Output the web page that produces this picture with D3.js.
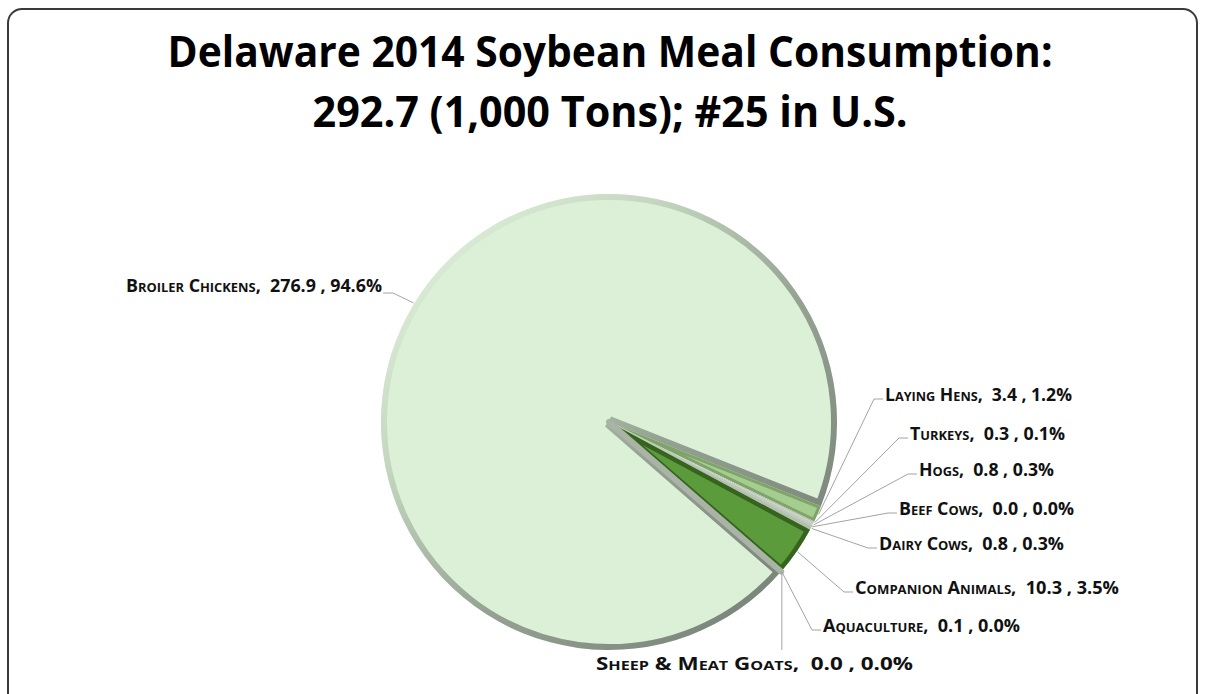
<!DOCTYPE html>
<meta charset="utf-8">
<style>
body { margin: 0; background: #fff; }
svg { display: block; font-family: "Open Sans", sans-serif; }
.leader { fill: none; stroke: #a3a3a3; stroke-width: 1; }
.title { font-weight: bold; fill: #000; }
.label { font-weight: bold; fill: #111; white-space: pre; }
</style>
<svg width="1205" height="694"></svg>
<script src="https://cdn.jsdelivr.net/npm/d3@7/dist/d3.min.js"></script>
<script>

// data (1,000 tons)
var categories = ["Broiler Chickens", "Laying Hens", "Turkeys", "Hogs", "Beef Cows",
                  "Dairy Cows", "Companion Animals", "Aquaculture", "Sheep & Meat Goats"];
var values   = [276.9, 3.4, 0.3, 0.8, 0.0, 0.8, 10.3, 0.1, 0.0];
var percents = ["94.6%", "1.2%", "0.1%", "0.3%", "0.0%", "0.3%", "3.5%", "0.0%", "0.0%"];
var titleLines = ["Delaware 2014 Soybean Meal Consumption:", "292.7 (1,000 Tons); #25 in U.S."];

// slice colours and bevel edge colours
var fills = ["#dcefd7", "#a6cd90", "#eef4ec", "#f3f6f2", "#dfe8dc", "#e8efe5", "#5c9b3b", "#a7b1a3", "#a7b1a3"];
var edges = [null, "#7ea46a", "#b3bdb0", "#c6cdc3", "#b8c4b4", "#b3c0ae", "#36641f", "#a9b3a6", "#a9b3a6"];

// label layout: text start x, baseline y, text width
var labelX = [126, 885, 910, 919, 899, 879, 855, 823, 596];
var labelY = [292, 401, 440, 476, 515, 550, 594, 632, 670];
var labelW = [256, 187, 155, 135, 175, 185, 264, 197, 317];

var svg = d3.select("svg"),
    width = +svg.attr("width"),
    height = +svg.attr("height");

// chart border
svg.append("rect")
    .attr("x", 8).attr("y", 9)
    .attr("width", 1189).attr("height", 700)
    .attr("rx", 14)
    .attr("fill", "#fff")
    .attr("stroke", "#3a3a3a")
    .attr("stroke-width", 2);

// title
svg.selectAll(".title")
    .data(titleLines)
  .enter().append("text")
    .attr("class", "title")
    .attr("x", 610)
    .attr("y", function(d, i) { return 67 + i * 60; })
    .attr("text-anchor", "middle")
    .attr("font-size", 43)
    .attr("textLength", function(d, i) { return i === 0 ? 885 : 595; })
    .attr("lengthAdjust", "spacingAndGlyphs")
    .text(function(d) { return d; });

var cx = 609, cy = 422, r = 228;
var deg = Math.PI / 180;
var start = 131 * deg;

var pie = d3.pie()
    .sort(null)
    .value(function(d) { return d; })
    .startAngle(start)
    .endAngle(start + 2 * Math.PI);

var arcs = pie(values);
var arc = d3.arc().innerRadius(0).outerRadius(r);
var rim = d3.arc().innerRadius(r + 1).outerRadius(r + 1);

var defs = svg.append("defs");

// bevel gradient for the big slice: light top-left, dark grey bottom-right
var grad = defs.append("linearGradient")
    .attr("id", "bevel")
    .attr("gradientUnits", "userSpaceOnUse")
    .attr("x1", -r).attr("y1", -r)
    .attr("x2", r * 0.75).attr("y2", r * 0.75);
grad.append("stop").attr("offset", 0).attr("stop-color", "#eafae6");
grad.append("stop").attr("offset", 0.35).attr("stop-color", "#c4d6c0");
grad.append("stop").attr("offset", 0.65).attr("stop-color", "#96a393");
grad.append("stop").attr("offset", 1).attr("stop-color", "#7a857a");

var g = svg.append("g").attr("transform", "translate(" + cx + "," + cy + ")");

defs.selectAll("clipPath")
    .data(arcs)
  .enter().append("clipPath")
    .attr("id", function(d, i) { return "clip" + i; })
  .append("path")
    .attr("d", arc);

var slice = g.selectAll(".slice")
    .data(arcs)
  .enter().append("g")
    .attr("class", "slice");

slice.append("path")
    .attr("d", arc)
    .attr("fill", function(d, i) { return fills[i]; });

// inner bevel, clipped to each slice
slice.filter(function(d) { return d.endAngle - d.startAngle > 0; })
  .append("path")
    .attr("d", arc)
    .attr("clip-path", function(d) { return "url(#clip" + d.index + ")"; })
    .attr("fill", "none")
    .attr("stroke", function(d) { return d.index === 0 ? "url(#bevel)" : edges[d.index]; })
    .attr("stroke-width", function(d) { return d.index === 0 ? 12 : d.index === 6 ? 9 : 6; })
    .attr("stroke-linejoin", "miter");

// zero-size slices still show a grey edge
slice.filter(function(d) { return d.endAngle - d.startAngle === 0; })
  .append("path")
    .attr("d", arc)
    .attr("fill", "none")
    .attr("stroke", function(d) { return edges[d.index]; })
    .attr("stroke-width", function(d) { return d.index === 4 ? 2 : 6; })
    .attr("stroke-linejoin", "round");

// leader lines
svg.append("g").selectAll("path")
    .data(arcs)
  .enter().append("path")
    .attr("class", "leader")
    .attr("d", function(d, i) {
      var p = rim.centroid(d);
      var ax = cx + p[0], ay = cy + p[1];
      var x0 = labelX[i], x1 = labelX[i] + labelW[i], y = labelY[i];
      if (x1 < ax) {
        return "M" + ax + "," + ay + "L" + (x1 + 11) + "," + (y + 1) + "L" + (x1 + 1) + "," + (y + 1);
      }
      if (x0 < ax && ax < x1) {
        return "M" + ax + "," + ay + "L" + ax + "," + (y - 20);
      }
      return "M" + ax + "," + ay + "L" + (x0 - 11) + "," + (y - 2) + "L" + (x0 - 2) + "," + (y - 2);
    });

// data labels
var label = svg.append("g").selectAll("text")
    .data(arcs)
  .enter().append("text")
    .attr("class", "label")
    .attr("x", function(d, i) { return labelX[i]; })
    .attr("y", function(d, i) { return labelY[i]; })
    .attr("font-size", 18)
    .attr("textLength", function(d, i) { return labelW[i]; })
    .attr("lengthAdjust", "spacingAndGlyphs");

label.append("tspan")
    .style("font-variant", "small-caps")
    .text(function(d, i) { return categories[i] + ","; });

label.append("tspan")
    .text(function(d, i) { return "  " + values[i].toFixed(1) + " , " + percents[i]; });

</script>
